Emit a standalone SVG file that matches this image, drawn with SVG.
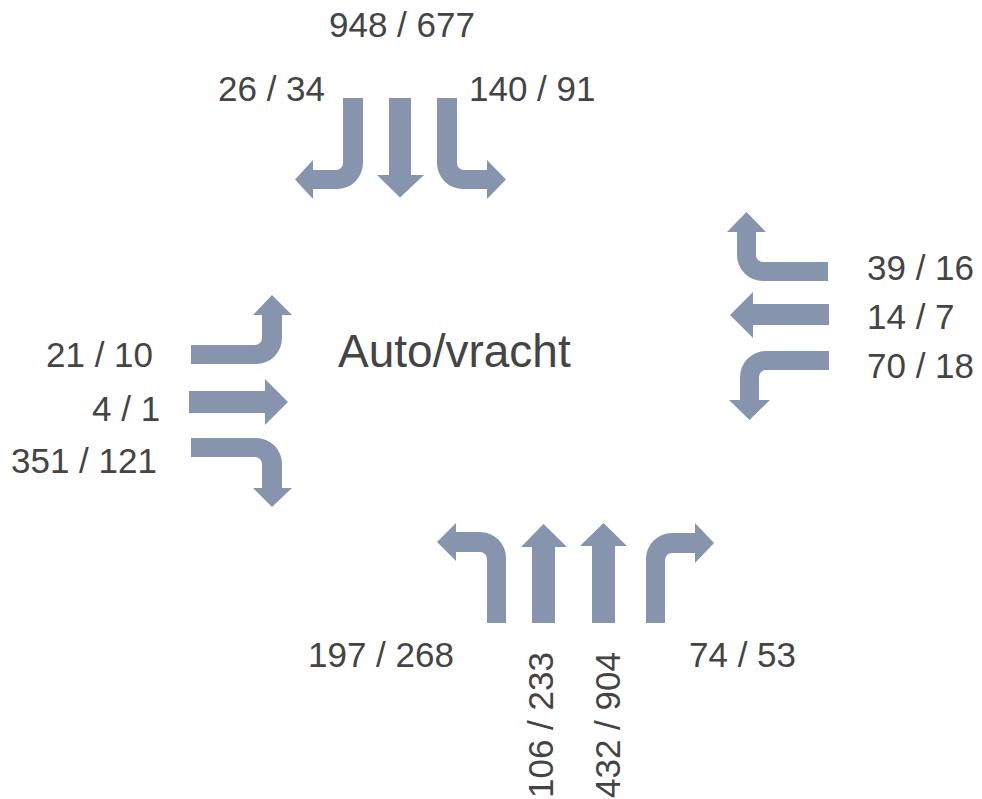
<svg xmlns="http://www.w3.org/2000/svg" width="982" height="799" viewBox="0 0 982 799">
<style>
.arr{fill:#8794AE;}
.lbl{font-family:"Liberation Sans",Arial,sans-serif;font-size:35px;fill:#444444;}
.title{font-family:"Liberation Sans",Arial,sans-serif;font-size:46px;fill:#444444;}
</style>
<rect width="982" height="799" fill="#ffffff"/>
<g id="connectors">
<g id="north">
<path class="arr" d="M343,98 H363 V163 A26,26 0 0 1 337,189 H313 V199 L295,179.5 L313,160 V170 H336 A7,7 0 0 0 343,163 Z"/>
<path class="arr" d="M389,98 H411 V175 H424 L400,197.5 L377,175 H389 Z"/>
<path class="arr" d="M437,98 H457 V163 A7,7 0 0 0 464,170 H487 V160 L506,179.5 L487,199 V189 H463 A26,26 0 0 1 437,163 Z"/>
</g>
<g id="south">
<path class="arr" d="M487,623 V559 A7,7 0 0 0 480,552 H456 V561 L437,542 L456,523 V532 H480 A26,26 0 0 1 506,558 V623 Z"/>
<path class="arr" d="M532,623 V547 H521 L543.5,524 L567,547 H555 V623 Z"/>
<path class="arr" d="M592,623 V546 H580 L603.5,523 L627,546 H615 V623 Z"/>
<path class="arr" d="M646,623 V559 A26,26 0 0 1 672,533 H695 V523 L714,543 L695,563 V553 H672 A7,7 0 0 0 665,560 V623 Z"/>
</g>
<g id="west">
<path class="arr" d="M191,345 H255 A7,7 0 0 0 262,338 V315 H253 L272,295 L292,315 H282 V338 A26,26 0 0 1 256,364 H191 Z"/>
<path class="arr" d="M189,391 H265 V379 L288,402 L265,425 V413 H189 Z"/>
<path class="arr" d="M191,438 H256 A26,26 0 0 1 282,464 V488 H292 L272,507 L253,488 H262 V464 A7,7 0 0 0 255,457 H191 Z"/>
</g>
<g id="east">
<path class="arr" d="M828,262 V281 H763 A26,26 0 0 1 737,255 V232 H727 L746.5,212 L766,232 H756 V255 A7,7 0 0 0 763,262 Z"/>
<path class="arr" d="M829,304 V325 H753 V338 L730,315 L753,292 V304 Z"/>
<path class="arr" d="M829,351 V370 H766 A7,7 0 0 0 759,377 V400 H770 L749.5,420 L729,400 H740 V377 A26,26 0 0 1 766,351 Z"/>
</g>
</g>
<g id="center-label"><text class="title" x="338" y="367">Auto/vracht</text></g>
<g id="labels-north">
<text class="lbl" x="329" y="37">948 / 677</text>
<text class="lbl" x="218" y="101">26 / 34</text>
<text class="lbl" x="469" y="101">140 / 91</text>
</g>
<g id="labels-west">
<text class="lbl" x="46" y="367">21 / 10</text>
<text class="lbl" x="92" y="421">4 / 1</text>
<text class="lbl" x="11" y="473">351 / 121</text>
</g>
<g id="labels-east">
<text class="lbl" x="867" y="280">39 / 16</text>
<text class="lbl" x="867" y="329">14 / 7</text>
<text class="lbl" x="867" y="378">70 / 18</text>
</g>
<g id="labels-south">
<text class="lbl" x="308" y="667">197 / 268</text>
<text class="lbl" x="689" y="667">74 / 53</text>
<text class="lbl" transform="translate(553,798) rotate(-90)">106 / 233</text>
<text class="lbl" transform="translate(620,798) rotate(-90)">432 / 904</text>
</g>
</svg>
